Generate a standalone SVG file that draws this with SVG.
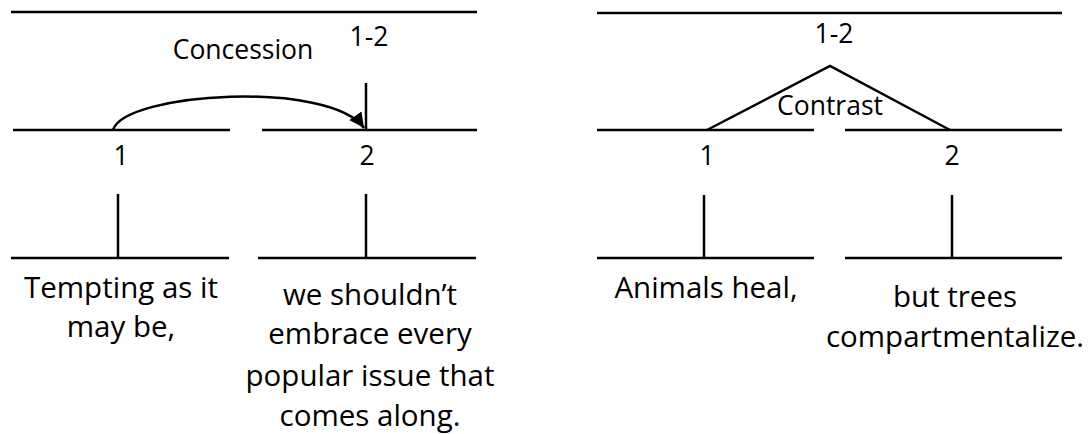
<svg xmlns="http://www.w3.org/2000/svg" width="1092" height="434" viewBox="0 0 1092 434">
<style>
.ln{stroke:#000;stroke-width:2.5;fill:none}
.t{font-family:"Open Sans",Lato,sans-serif;font-size:29.5px;fill:#000;text-anchor:middle}
.s{font-family:"Open Sans",Lato,sans-serif;font-size:26.5px;fill:#000;text-anchor:middle}
</style>
<defs>
<marker id="ah" markerUnits="userSpaceOnUse" markerWidth="18" markerHeight="18" refX="15" refY="7.5" orient="auto">
<path d="M0,0 L15,7.5 L0,15 Z" fill="#000"/>
</marker>
</defs>
<rect width="1092" height="434" fill="#fff"/>
<g id="left-panel">
<g id="l-root">
<line class="ln" x1="11" y1="12" x2="477" y2="12"/>
<text class="s" x="369" y="46">1-2</text>
</g>
<g id="l-n1">
<line class="ln" x1="13" y1="130" x2="230" y2="130"/>
<text class="s" x="121" y="165">1</text>
<line class="ln" x1="118" y1="194" x2="118" y2="258"/>
<line class="ln" x1="11" y1="258" x2="229" y2="258"/>
<text class="t" x="121" y="298">Tempting as it</text>
<text class="t" x="121" y="337">may be,</text>
</g>
<g id="l-n2">
<line class="ln" x1="262" y1="130" x2="477" y2="130"/>
<text class="s" x="367" y="165">2</text>
<line class="ln" x1="366" y1="194" x2="366" y2="258"/>
<line class="ln" x1="258" y1="258" x2="476" y2="258"/>
<text class="t" x="370" y="305">we shouldn’t</text>
<text class="t" x="370" y="344">embrace every</text>
<text class="t" x="370" y="386">popular issue that</text>
<text class="t" x="370" y="426">comes along.</text>
</g>
</g>
<g id="right-panel">
<g id="r-root">
<line class="ln" x1="597" y1="13" x2="1062" y2="13"/>
<text class="s" x="834" y="43">1-2</text>
</g>
<g id="r-n1">
<line class="ln" x1="597" y1="130" x2="814" y2="130"/>
<text class="s" x="707" y="165">1</text>
<line class="ln" x1="704" y1="195" x2="704" y2="258"/>
<line class="ln" x1="597" y1="258" x2="814" y2="258"/>
<text class="t" x="706" y="298">Animals heal,</text>
</g>
<g id="r-n2">
<line class="ln" x1="845" y1="130" x2="1062" y2="130"/>
<text class="s" x="952" y="165">2</text>
<line class="ln" x1="952" y1="195" x2="952" y2="258"/>
<line class="ln" x1="845" y1="258" x2="1062" y2="258"/>
<text class="t" x="955" y="307">but trees</text>
<text class="t" x="955" y="347">compartmentalize.</text>
</g>
</g>
<g id="connectors">
<line class="ln" x1="366" y1="83" x2="366" y2="130"/>
<path class="ln" d="M113,130 C125,92 330,80 364,128" marker-end="url(#ah)"/>
<text class="s" x="243" y="59">Concession</text>
<polyline class="ln" points="707,130 830,66 950,130"/>
<text class="s" x="830" y="115">Contrast</text>
</g>
</svg>
